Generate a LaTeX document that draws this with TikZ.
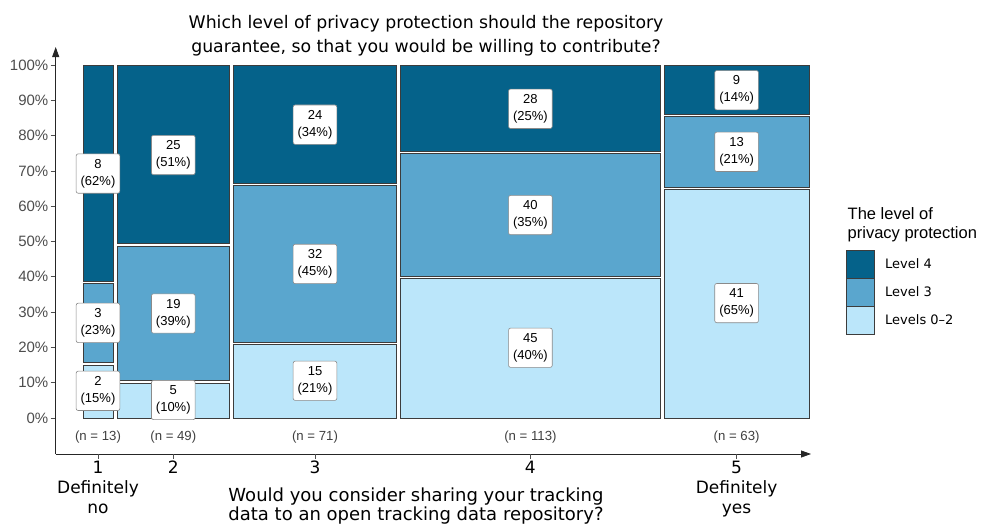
\documentclass[tikz,border=0pt]{standalone}
\usepackage{fontspec}
\setmainfont{DejaVu Sans}
\newfontfamily\arialf{Liberation Sans}
\usetikzlibrary{arrows.meta}
\definecolor{lvA}{HTML}{05628A}
\definecolor{lvB}{HTML}{5AA6CE}
\definecolor{lvC}{HTML}{BBE6FA}
\definecolor{segline}{HTML}{3C3C3C}
\definecolor{ticktxt}{HTML}{4D4D4D}
\definecolor{labline}{HTML}{8A8A8A}
\begin{document}
\begin{tikzpicture}[x=1pt,y=-1pt,
  segbox/.style={draw=segline, line width=0.7pt},
  lab/.style={draw=labline, line width=0.6pt, fill=white, rounded corners=2pt, align=center,
    font=\arialf\fontsize{13}{17}\selectfont, inner xsep=4.5pt, inner ysep=5.3pt},
  ntxt/.style={font=\arialf\fontsize{13.2}{15}\selectfont, text=black!75, inner sep=0pt},
  ytxt/.style={font=\arialf\fontsize{15}{18}\selectfont, text=ticktxt, anchor=east, inner sep=0pt},
  xtxt/.style={font=\fontsize{17}{20}\selectfont, align=center, anchor=north, inner sep=0pt},
  tickln/.style={draw=ticktxt, line width=0.7pt},
  axisln/.style={draw=black!85, line width=0.8pt, -{Triangle[length=10pt,width=7pt]}},
  keybox/.style={draw=segline, line width=0.7pt},
  keytxt/.style={font=\fontsize{13}{16}\selectfont, anchor=west, inner sep=0pt}
]
\useasboundingbox (0,0) rectangle (989,525);

% title
\node[font=\fontsize{17.3}{24.5}\selectfont, align=center, anchor=north, inner sep=0pt] (title) at (426,15)
  {Which level of privacy protection should the repository\\guarantee, so that you would be willing to contribute?};

% plot area: x in px, y in percent
\begin{scope}[yshift=-418pt, y=3.53pt]
  % column 1
  \draw[segbox, fill=lvC] (83,0) rectangle (113,15.05);
  \draw[segbox, fill=lvB] (83,15.75) rectangle (113,38.15);
  \draw[segbox, fill=lvA] (83,38.85) rectangle (113,100);
  % column 2
  \draw[segbox, fill=lvC] (117,0) rectangle (229.5,9.85);
  \draw[segbox, fill=lvB] (117,10.55) rectangle (229.5,48.65);
  \draw[segbox, fill=lvA] (117,49.35) rectangle (229.5,100);
  % column 3
  \draw[segbox, fill=lvC] (233.5,0) rectangle (396.5,20.75);
  \draw[segbox, fill=lvB] (233.5,21.45) rectangle (396.5,65.85);
  \draw[segbox, fill=lvA] (233.5,66.55) rectangle (396.5,100);
  % column 4
  \draw[segbox, fill=lvC] (400.5,0) rectangle (660.3,39.45);
  \draw[segbox, fill=lvB] (400.5,40.15) rectangle (660.3,74.85);
  \draw[segbox, fill=lvA] (400.5,75.55) rectangle (660.3,100);
  % column 5
  \draw[segbox, fill=lvC] (664.3,0) rectangle (809,64.75);
  \draw[segbox, fill=lvB] (664.3,65.45) rectangle (809,85.35);
  \draw[segbox, fill=lvA] (664.3,86.05) rectangle (809,100);

  % labels
  \node[lab] (l1a) at (98,69.25) {8\\(62\%)};
  \node[lab] (l1b) at (98,26.95) {3\\(23\%)};
  \node[lab] (l1c) at (98,7.7) {2\\(15\%)};
  \node[lab] (l2a) at (173.3,74.5) {25\\(51\%)};
  \node[lab] (l2b) at (173.3,29.6) {19\\(39\%)};
  \node[lab] (l2c) at (173.3,5.1) {5\\(10\%)};
  \node[lab] (l3a) at (315,83.1) {24\\(34\%)};
  \node[lab] (l3b) at (315,43.65) {32\\(45\%)};
  \node[lab] (l3c) at (315,10.55) {15\\(21\%)};
  \node[lab] (l4a) at (530.4,87.6) {28\\(25\%)};
  \node[lab] (l4b) at (530.4,57.5) {40\\(35\%)};
  \node[lab] (l4c) at (530.4,19.9) {45\\(40\%)};
  \node[lab] (l5a) at (736.6,92.85) {9\\(14\%)};
  \node[lab] (l5b) at (736.6,75.4) {13\\(21\%)};
  \node[lab] (l5c) at (736.6,32.55) {41\\(65\%)};

  % y ticks
  \foreach \p in {0,10,...,100} {
    \draw[tickln] (50.5,\p) -- (55.7,\p);
    \node[ytxt] (yt\p) at (48.5,\p) {\p\%};
  }
\end{scope}

% axes
\coordinate (orig) at (55.7,454);
\coordinate (ytip) at (55.7,47);
\coordinate (xtip) at (811,454);
\draw[axisln] (orig) -- (ytip);
\draw[axisln] (orig) -- (xtip);

% n labels
\node[ntxt] (n1) at (98,436.7) {(n = 13)};
\node[ntxt] (n2) at (173.3,436.7) {(n = 49)};
\node[ntxt] (n3) at (315,436.7) {(n = 71)};
\node[ntxt] (n4) at (530.4,436.7) {(n = 113)};
\node[ntxt] (n5) at (736.6,436.7) {(n = 63)};

% x ticks and labels
\foreach \xx in {98,173.3,315,530.4,736.6} \draw[tickln] (\xx,454) -- (\xx,458.5);
\node[xtxt] (x1) at (98,461) {1\\Definitely\\no};
\node[xtxt] (x2) at (173.3,461) {2};
\node[xtxt] (x3) at (315,461) {3};
\node[xtxt] (x4) at (530.4,461) {4};
\node[xtxt] (x5) at (736.6,461) {5\\Definitely\\yes};

% x axis title
\node[font=\fontsize{18}{19.5}\selectfont, align=center, anchor=north, inner sep=0pt] (xtitle) at (416,487.5)
  {Would you consider sharing your tracking\\data to an open tracking data repository?};

% legend
\node[font=\arialf\fontsize{16.5}{18.4}\selectfont, align=left, anchor=north west, inner sep=0pt] (legtitle) at (847.5,207.5)
  {The level of\\privacy protection};
\draw[keybox, fill=lvA] (846,250) rectangle (874,278);
\draw[keybox, fill=lvB] (846,278) rectangle (874,306);
\draw[keybox, fill=lvC] (846,306) rectangle (874,334);
\node[keytxt] (k4) at (885,264) {Level 4};
\node[keytxt] (k3) at (885,292) {Level 3};
\node[keytxt] (k0) at (885,320) {Levels 0–2};
\end{tikzpicture}
\end{document}
